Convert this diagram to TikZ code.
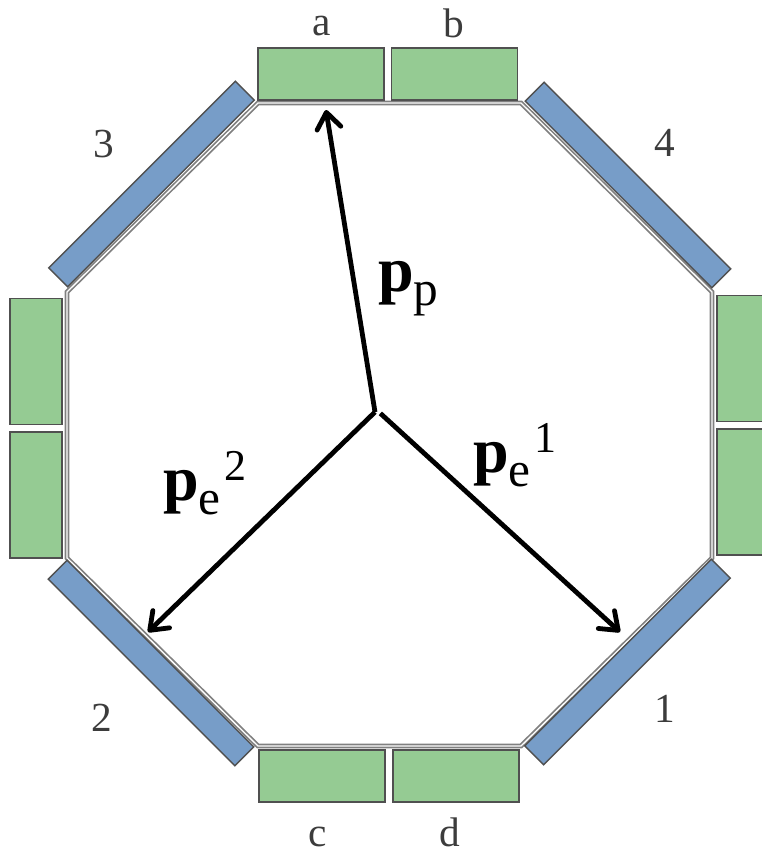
\documentclass[tikz,border=0pt]{standalone}
\usepackage{fontspec}
\setmainfont{Liberation Serif}
\usetikzlibrary{arrows.meta}
\definecolor{padgreen}{HTML}{95CB93}
\definecolor{barblue}{HTML}{779DC8}
\definecolor{edgegrey}{HTML}{505050}
\definecolor{lblgrey}{HTML}{3C3C3C}
\newcommand{\pvec}[2]{{\fontsize{48}{48}\selectfont\bfseries p}\raisebox{-11pt}{\fontsize{37}{37}\selectfont #1}\ifx&#2&\else\raisebox{15pt}{\fontsize{33}{33}\selectfont\hspace{3pt}#2}\fi}
\tikzset{
  pad/.style   = {draw=edgegrey, line width=1.4pt, fill=padgreen, inner sep=0pt},
  padh/.style  = {pad, minimum width=94.5pt, minimum height=39pt},
  padv/.style  = {pad, minimum width=39pt, minimum height=94.5pt},
  bar/.style   = {draw=edgegrey, line width=1.1pt, fill=barblue, inner sep=0pt,
                  minimum width=198pt, minimum height=20pt},
  frame/.style = {draw=gray, line width=1.3pt, double=white, double distance=1pt, line join=miter},
  vec/.style   = {-{Straight Barb[length=12pt, width=18pt, round]}, line width=3.6pt, black},
  lbl/.style   = {font=\fontsize{31}{31}\selectfont, text=lblgrey, inner sep=0pt, anchor=base},
  plbl/.style  = {anchor=base west, inner sep=0pt},
}
\begin{document}
\begin{tikzpicture}[x=0.75pt, y=-0.75pt]
  \useasboundingbox (0,0) rectangle (761,853);
  % octagon
  \draw[frame] (258,103) -- (521,103) -- (712,292) -- (712,558) -- (521,746)
    -- (258,746) -- (67,558) -- (67,292) -- cycle;
  \foreach \n/\x/\y in {a/321/74, b/454.5/74, c/322/776, d/456/776} {
    \node[padh] (\n) at (\x,\y) {};
  }
  \foreach \n/\x/\y in {e/36/361.5, f/36/495, g/743/358.5, h/743/492} {
    \node[padv] (\n) at (\x,\y) {};
  }
  \foreach \n/\x/\y/\a in {s1/627.5/662/45, s2/151/663/-45, s3/151.5/184/45, s4/628/185/-45} {
    \node[bar, rotate=\a] (\n) at (\x,\y) {};
  }
  \foreach \n/\t/\x/\y in {la/a/322/35, lb/b/454/37, lc/c/318/846, ld/d/450/846,
                           l1/1/665/722, l2/2/102/731, l3/3/104/157, l4/4/665/156} {
    \node[lbl] (\n) at (\x,\y) {\t};
  }
  % vectors
  \coordinate (o) at (375,412);
  \coordinate (tipp) at (326,110);
  \coordinate (tipa) at (620,632);
  \coordinate (tipb) at (148,632);
  \draw[vec] (o) -- (tipp);
  \draw[vec] ([xshift=4pt,yshift=-1pt]o) -- (tipa);
  \draw[vec] (o) -- (tipb);
  \node[plbl] (pp) at (378,291) {\pvec{p}{}};
  \node[plbl] (pa) at (473,472) {\pvec{e}{1}};
  \node[plbl] (pb) at (163,500) {\pvec{e}{2}};
\end{tikzpicture}
\end{document}
